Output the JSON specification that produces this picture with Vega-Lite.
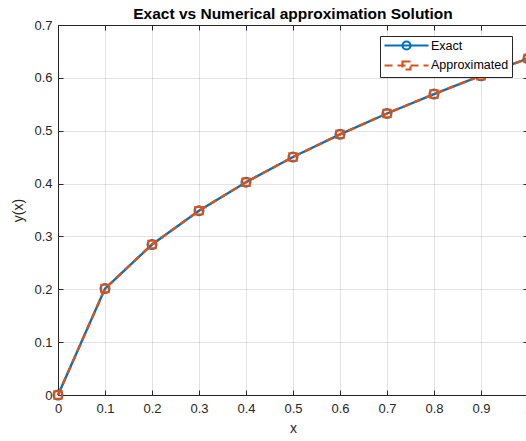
{
  "$schema": "https://vega.github.io/schema/vega-lite/v6.json",
  "autosize": "none",
  "width": 470,
  "height": 370,
  "padding": {"left": 58, "top": 25, "right": 0, "bottom": 46},
  "background": "white",
  "title": {
    "text": "Exact vs Numerical approximation Solution",
    "font": "Liberation Sans",
    "fontSize": 15.5,
    "fontWeight": "bold",
    "color": "#000000",
    "anchor": "middle",
    "offset": -3
  },
  "data": {
    "values": [
      {"x": 0.0, "y": 0.0, "series": "Exact"},
      {"x": 0.1, "y": 0.2013, "series": "Exact"},
      {"x": 0.2, "y": 0.2847, "series": "Exact"},
      {"x": 0.3, "y": 0.3487, "series": "Exact"},
      {"x": 0.4, "y": 0.4026, "series": "Exact"},
      {"x": 0.5, "y": 0.4502, "series": "Exact"},
      {"x": 0.6, "y": 0.4931, "series": "Exact"},
      {"x": 0.7, "y": 0.5326, "series": "Exact"},
      {"x": 0.8, "y": 0.5694, "series": "Exact"},
      {"x": 0.9, "y": 0.6040, "series": "Exact"},
      {"x": 1.0, "y": 0.6366, "series": "Exact"},
      {"x": 0.0, "y": 0.0, "series": "Approximated"},
      {"x": 0.1, "y": 0.2013, "series": "Approximated"},
      {"x": 0.2, "y": 0.2847, "series": "Approximated"},
      {"x": 0.3, "y": 0.3487, "series": "Approximated"},
      {"x": 0.4, "y": 0.4026, "series": "Approximated"},
      {"x": 0.5, "y": 0.4502, "series": "Approximated"},
      {"x": 0.6, "y": 0.4931, "series": "Approximated"},
      {"x": 0.7, "y": 0.5326, "series": "Approximated"},
      {"x": 0.8, "y": 0.5694, "series": "Approximated"},
      {"x": 0.9, "y": 0.6040, "series": "Approximated"},
      {"x": 1.0, "y": 0.6366, "series": "Approximated"}
    ]
  },
  "config": {
    "font": "Liberation Sans",
    "view": {"stroke": null},
    "axis": {
      "labelFont": "Liberation Sans",
      "labelFontSize": 13,
      "labelColor": "#262626",
      "titleFont": "Liberation Sans",
      "titleFontSize": 14,
      "titleFontWeight": "normal",
      "titleColor": "#262626",
      "domainColor": "#262626",
      "domainWidth": 1,
      "tickColor": "#262626",
      "tickWidth": 1,
      "tickSize": -5,
      "gridColor": "#262626",
      "gridOpacity": 0.13,
      "gridWidth": 1
    }
  },
  "resolve": {"axis": {"x": "independent", "y": "independent"}},
  "layer": [
    {
      "transform": [{"filter": "datum.series === 'Exact'"}],
      "mark": {"type": "line", "strokeWidth": 2.4},
      "encoding": {
        "x": {
          "field": "x", "type": "quantitative",
          "scale": {"domain": [0, 1], "nice": false, "zero": false},
          "axis": {
            "title": "x",
            "values": [0, 0.1, 0.2, 0.3, 0.4, 0.5, 0.6, 0.7, 0.8, 0.9, 1],
            "format": ".1~f",
            "grid": true,
            "labelPadding": 12,
            "titlePadding": 6,
            "labelFlush": false
          }
        },
        "y": {
          "field": "y", "type": "quantitative",
          "scale": {"domain": [0, 0.7], "nice": false},
          "axis": {
            "title": "y(x)",
            "values": [0, 0.1, 0.2, 0.3, 0.4, 0.5, 0.6, 0.7],
            "format": ".1~f",
            "grid": true,
            "labelPadding": 11,
            "titlePadding": 8,
            "labelFlush": false
          }
        },
        "color": {
          "field": "series", "type": "nominal",
          "scale": {"domain": ["Exact", "Approximated"], "range": ["#0072BD", "rgba(0,0,0,0)"]},
          "legend": {
            "title": null,
            "orient": "none",
            "legendX": 322,
            "legendY": 11,
            "direction": "vertical",
            "fillColor": "white",
            "strokeColor": "#262626",
            "padding": 3,
            "rowPadding": 2.5,
            "cornerRadius": 0,
            "labelFont": "Liberation Sans",
            "labelFontSize": 12.5,
            "labelColor": "#000000",
            "labelOffset": 35,
            "symbolSize": 100,
            "symbolStrokeWidth": 2.2,
            "symbolOpacity": 1,
            "symbolFillColor": "transparent",
            "symbolType": "M-1,0H7.8M2.6,0A0.8,0.8 0 1,1 4.2,0A0.8,0.8 0 1,1 2.6,0"
          }
        }
      }
    },
    {
      "transform": [{"filter": "datum.series === 'Exact'"}],
      "mark": {"type": "point", "filled": false, "size": 81, "strokeWidth": 2, "opacity": 1},
      "encoding": {
        "x": {"field": "x", "type": "quantitative", "axis": null},
        "y": {"field": "y", "type": "quantitative", "axis": null},
        "color": {"field": "series", "type": "nominal"}
      }
    },
    {
      "transform": [{"filter": "datum.series === 'Approximated'"}],
      "mark": {"type": "line", "strokeWidth": 2.4, "strokeDash": [7, 5]},
      "encoding": {
        "x": {
          "field": "x", "type": "quantitative",
          "axis": {"orient": "top", "title": null, "labels": false, "grid": false,
                   "values": [0, 0.1, 0.2, 0.3, 0.4, 0.5, 0.6, 0.7, 0.8, 0.9, 1]}
        },
        "y": {
          "field": "y", "type": "quantitative",
          "axis": {"orient": "right", "title": null, "labels": false, "grid": false,
                   "values": [0, 0.1, 0.2, 0.3, 0.4, 0.5, 0.6, 0.7]}
        },
        "stroke": {
          "field": "series", "type": "nominal",
          "scale": {"domain": ["Approximated"], "range": ["#D95319"]},
          "legend": {
            "title": null,
            "orient": "none",
            "legendX": 322,
            "legendY": 31,
            "direction": "vertical",
            "padding": 3,
            "labelFont": "Liberation Sans",
            "labelFontSize": 12.5,
            "labelColor": "#000000",
            "labelOpacity": 0,
            "labelOffset": 35,
            "symbolSize": 100,
            "symbolStrokeWidth": 2.2,
            "symbolOpacity": 1,
            "symbolDash": [8, 5],
            "symbolFillColor": "transparent",
            "symbolType": "M-1,0H7.8M2.6,-0.8H4.2V0.8H2.6Z"
          }
        }
      }
    },
    {
      "transform": [{"filter": "datum.series === 'Approximated'"}],
      "mark": {"type": "square", "filled": false, "size": 56, "strokeWidth": 2, "opacity": 1},
      "encoding": {
        "x": {"field": "x", "type": "quantitative", "axis": null},
        "y": {"field": "y", "type": "quantitative", "axis": null},
        "stroke": {"field": "series", "type": "nominal"}
      }
    }
  ]
}
